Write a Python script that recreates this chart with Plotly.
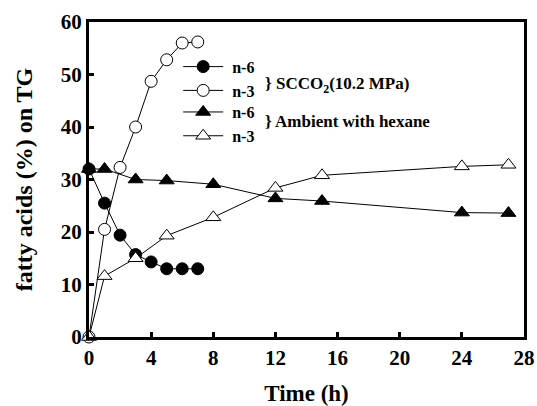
import plotly.graph_objects as go

# Data
sc_time = [0, 1, 2, 3, 4, 5, 6, 7]
sc_n6 = [32.0, 25.5, 19.4, 15.7, 14.3, 13.0, 13.0, 13.0]
sc_n3 = [0.0, 20.5, 32.3, 40.0, 48.7, 52.8, 56.0, 56.2]

amb_time = [0, 1, 3, 5, 8, 12, 15, 24, 27]
amb_n6 = [32.0, 32.0, 30.0, 29.8, 29.1, 26.4, 25.9, 23.7, 23.6]
amb_n3 = [0.0, 11.6, 15.0, 19.3, 22.8, 28.4, 30.8, 32.5, 32.8]

x_ticks = [0, 4, 8, 12, 16, 20, 24, 28]
y_ticks = [0, 10, 20, 30, 40, 50, 60]

FONT = "Liberation Serif"
NB = "\u00a0"

fig = go.Figure()

def add(x, y, symbol, legend, fill):
    fig.add_trace(go.Scatter(
        x=x, y=y, mode="lines+markers",
        name=NB + ("n-6" if fill else "n-3"),
        legend=legend,
        line=dict(color="black", width=1),
        marker=dict(symbol=symbol, size=12 if "circle" in symbol else 13,
                    color="black" if fill else "white",
                    line=dict(color="black", width=1)),
        cliponaxis=False,
    ))

add(sc_time, sc_n6, "circle", "legend", True)
add(sc_time, sc_n3, "circle", "legend", False)
add(amb_time, amb_n6, "triangle-up", "legend2", True)
add(amb_time, amb_n3, "triangle-up", "legend2", False)

leg_common = dict(xanchor="left", yanchor="middle", bgcolor="rgba(0,0,0,0)",
                  font=dict(size=16, family=FONT, weight="bold"), itemwidth=40)

fig.update_layout(
    width=537, height=406,
    margin=dict(l=89, r=13, t=22, b=69),
    paper_bgcolor="white", plot_bgcolor="white",
    font=dict(family=FONT, color="black", size=16, weight="bold"),
    showlegend=True,
    legend=dict(x=0.205, y=0.82, **leg_common),
    legend2=dict(x=0.205, y=0.676, **leg_common),
    xaxis=dict(range=[0, 28], tickvals=x_ticks, ticks="inside", ticklen=5,
               tickwidth=3, tickcolor="black", showline=True, linewidth=3,
               linecolor="black", mirror=True, showgrid=False, zeroline=False,
               automargin=False,
               tickfont=dict(size=21, family=FONT, weight="bold"),
               title=dict(text="Time (h)", standoff=20,
                          font=dict(size=23, family=FONT, weight="bold"))),
    yaxis=dict(range=[0, 60], tickvals=y_ticks, ticks="inside", ticklen=5,
               tickwidth=3, tickcolor="black", showline=True, linewidth=3,
               linecolor="black", mirror=True, showgrid=False, zeroline=False,
               automargin=False,
               tickfont=dict(size=21, family=FONT, weight="bold"),
               title=dict(text="fatty acids (%) on TG", standoff=22,
                          font=dict(size=24, family=FONT, weight="bold"))),
)

fig.add_annotation(x=0.40, y=0.80, xref="paper", yref="paper",
                   text="} SCCO<sub>2</sub>(10.2 MPa)", showarrow=False,
                   xanchor="left", yanchor="middle",
                   font=dict(size=17, family=FONT, weight="bold"))
fig.add_annotation(x=0.40, y=0.683, xref="paper", yref="paper",
                   text="} Ambient with hexane", showarrow=False,
                   xanchor="left", yanchor="middle",
                   font=dict(size=17, family=FONT, weight="bold"))

fig.write_html("out.html")
